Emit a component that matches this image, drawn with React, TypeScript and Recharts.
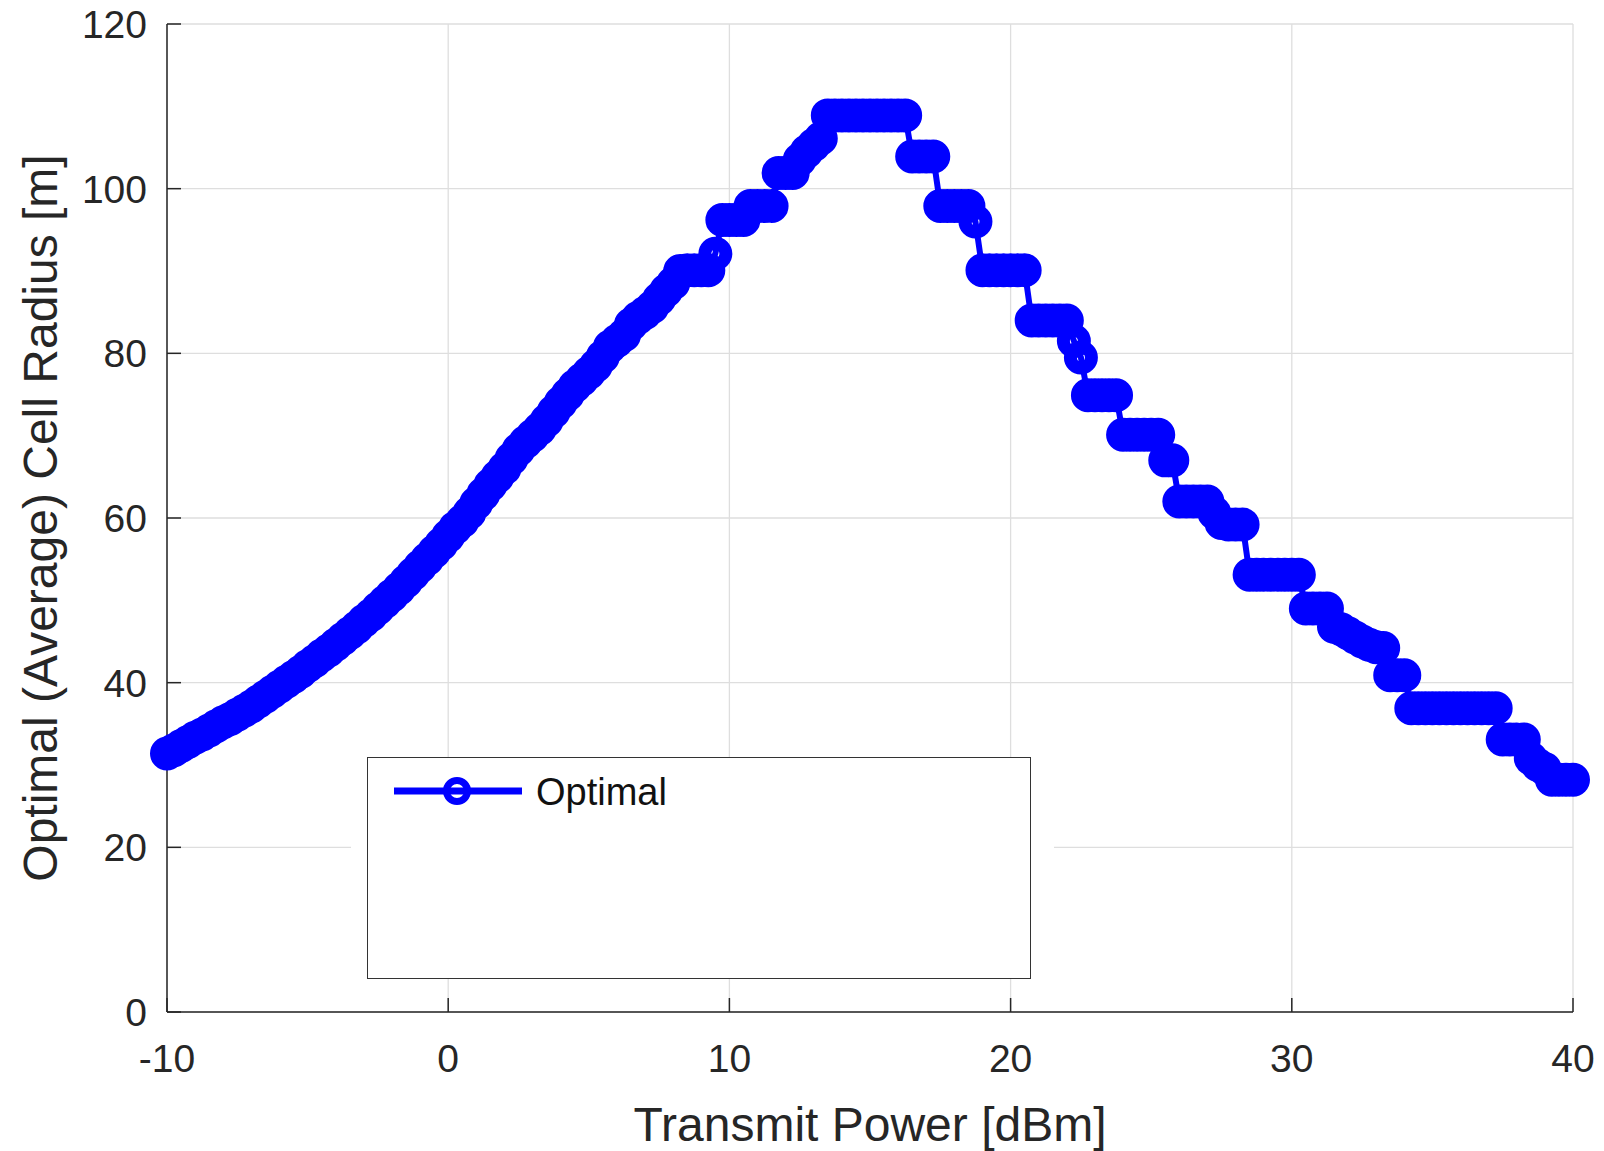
import React from 'react';
import { LineChart, Line, XAxis, YAxis, CartesianGrid, Legend } from 'recharts';

// Transmit power [dBm]
const powerDbm: number[] = [
  -10, -9.75, -9.5, -9.25, -9, -8.75, -8.5, -8.25, -8, -7.75, -7.5, -7.25, -7, -6.75, -6.5, -6.25,
  -6, -5.75, -5.5, -5.25, -5, -4.75, -4.5, -4.25, -4, -3.75, -3.5, -3.25, -3, -2.75, -2.5, -2.25,
  -2, -1.75, -1.5, -1.25, -1, -0.75, -0.5, -0.25, 0, 0.25, 0.5, 0.75, 1, 1.25, 1.5, 1.75,
  2, 2.25, 2.5, 2.75, 3, 3.25, 3.5, 3.75, 4, 4.25, 4.5, 4.75, 5, 5.25, 5.5, 5.75,
  6, 6.25, 6.5, 6.75, 7, 7.25, 7.5, 7.75, 8, 8.25, 8.5, 8.75, 9, 9.25, 9.5, 9.75,
  10, 10.25, 10.5, 10.75, 11, 11.25, 11.5, 11.75, 12, 12.25, 12.5, 12.75, 13, 13.25, 13.5, 13.75,
  14, 14.25, 14.5, 14.75, 15, 15.25, 15.5, 15.75, 16, 16.25, 16.5, 16.75, 17, 17.25, 17.5, 17.75,
  18, 18.25, 18.5, 18.75, 19, 19.25, 19.5, 19.75, 20, 20.25, 20.5, 20.75, 21, 21.25, 21.5, 21.75,
  22, 22.25, 22.5, 22.75, 23, 23.25, 23.5, 23.75, 24, 24.25, 24.5, 24.75, 25, 25.25, 25.5, 25.75,
  26, 26.25, 26.5, 26.75, 27, 27.25, 27.5, 27.75, 28, 28.25, 28.5, 28.75, 29, 29.25, 29.5, 29.75,
  30, 30.25, 30.5, 30.75, 31, 31.25, 31.5, 31.75, 32, 32.25, 32.5, 32.75, 33, 33.25, 33.5, 33.75,
  34, 34.25, 34.5, 34.75, 35, 35.25, 35.5, 35.75, 36, 36.25, 36.5, 36.75, 37, 37.25, 37.5, 37.75,
  38, 38.25, 38.5, 38.75, 39, 39.25, 39.5, 39.75, 40,
];

// Optimal (average) cell radius [m]
const optimalRadius: number[] = [
  31.4, 31.8, 32.3, 32.8, 33.3, 33.7, 34.2, 34.7, 35.2, 35.6, 36.1, 36.6, 37.1, 37.7, 38.3, 38.9,
  39.5, 40.1, 40.7, 41.3, 42.0, 42.6, 43.3, 43.9, 44.6, 45.3, 46.0, 46.7, 47.5, 48.2, 49.0, 49.8,
  50.6, 51.4, 52.3, 53.2, 54.1, 55.0, 55.9, 56.8, 57.8, 58.8, 59.6, 60.6, 61.8, 62.9, 64.0, 65.0,
  66.0, 67.2, 68.3, 69.2, 70.0, 70.8, 71.8, 72.9, 74.0, 75.0, 76.0, 76.8, 77.6, 78.5, 79.6, 80.8,
  81.5, 82.2, 83.5, 84.3, 84.9, 85.6, 86.6, 87.6, 88.5, 90.0, 90.1, 90.1, 90.1, 90.1, 92.1, 96.2,
  96.2, 96.2, 96.2, 97.9, 97.9, 97.9, 97.9, 101.9, 101.9, 101.9, 103.5, 104.5, 105.3, 106.1, 108.9, 108.9,
  108.9, 108.9, 108.9, 108.9, 108.9, 108.9, 108.9, 108.9, 108.9, 108.9, 103.9, 103.9, 103.9, 103.9, 97.9, 97.9,
  97.9, 97.9, 97.9, 96.0, 90.1, 90.1, 90.1, 90.1, 90.1, 90.1, 90.1, 84.0, 84.0, 84.0, 84.0, 84.0,
  84.0, 81.5, 79.5, 74.9, 74.9, 74.9, 74.9, 74.9, 70.1, 70.1, 70.1, 70.1, 70.1, 70.1, 67.0, 67.0,
  62.0, 62.0, 62.0, 62.0, 62.0, 60.6, 59.4, 59.2, 59.2, 59.2, 53.1, 53.1, 53.1, 53.1, 53.1, 53.1,
  53.1, 53.1, 49.0, 49.0, 49.0, 49.0, 46.8, 46.5, 46.0, 45.5, 45.0, 44.6, 44.3, 44.2, 40.9, 40.9,
  40.9, 36.9, 36.9, 36.9, 36.9, 36.9, 36.9, 36.9, 36.9, 36.9, 36.9, 36.9, 36.9, 36.9, 33.1, 33.1,
  33.1, 33.1, 30.8, 30.0, 29.5, 28.2, 28.2, 28.2, 28.2,
];

const xTicks: number[] = [-10, 0, 10, 20, 30, 40];
const yTicks: number[] = [0, 20, 40, 60, 80, 100, 120];

const seriesName = 'Optimal';
const xTitle = 'Transmit Power [dBm]';
const yTitle = 'Optimal (Average) Cell Radius [m]';

const data = powerDbm.map((p, i) => ({ power: p, radius: optimalRadius[i] }));

const FONT = '"Liberation Sans", Arial, Helvetica, sans-serif';
const TEXT = '#262626';
const AXIS = '#262626';
const BLUE = '#0000ff';
const TICK_LEN = 14;

const BottomTick = (props: any) => {
  const { x, y, payload } = props;
  return (
    <g>
      <line x1={x} y1={y} x2={x} y2={y - TICK_LEN} stroke={AXIS} strokeWidth={1.5} />
      <text x={x} y={y + 60} textAnchor="middle" fontFamily={FONT} fontSize={39} fill={TEXT}>
        {payload.value}
      </text>
    </g>
  );
};

const TopTick = (props: any) => {
  const { x, y } = props;
  return <line x1={x} y1={y} x2={x} y2={y + TICK_LEN} stroke={AXIS} strokeWidth={1.5} />;
};

const LeftTick = (props: any) => {
  const { x, y, payload } = props;
  return (
    <g>
      <line x1={x} y1={y} x2={x + TICK_LEN} y2={y} stroke={AXIS} strokeWidth={1.5} />
      <text x={x - 20} y={y} dy="0.358em" textAnchor="end" fontFamily={FONT} fontSize={39} fill={TEXT}>
        {payload.value}
      </text>
    </g>
  );
};

const RightTick = (props: any) => {
  const { x, y } = props;
  return <line x1={x} y1={y} x2={x - TICK_LEN} y2={y} stroke={AXIS} strokeWidth={1.5} />;
};

const XTitle = (props: any) => {
  const vb = props.viewBox || {};
  return (
    <text x={vb.x + vb.width / 2} y={vb.y + 129} textAnchor="middle" fontFamily={FONT} fontSize={48} fill={TEXT}>
      {xTitle}
    </text>
  );
};

const YTitle = (props: any) => {
  const vb = props.viewBox || {};
  const cx = vb.x + 57;
  const cy = vb.y + vb.height / 2;
  return (
    <text x={cx} y={cy} transform={`rotate(-90, ${cx}, ${cy})`} textAnchor="middle" fontFamily={FONT} fontSize={48} fill={TEXT}>
      {yTitle}
    </text>
  );
};

const LegendBox = () => (
  <div style={{ position: 'relative', width: 664, height: 222 }}>
    <div style={{ position: 'absolute', left: -16, top: 86, width: 703, height: 7, background: '#fff' }} />
    <div
      style={{
        position: 'absolute',
        left: 0,
        top: 0,
        width: 664,
        height: 222,
        boxSizing: 'border-box',
        border: '1.5px solid #333',
        background: '#fff',
      }}
    >
      <svg width={664} height={222} style={{ position: 'absolute', left: -1.5, top: -1.5 }}>
        <line x1={27} y1={34} x2={155} y2={34} stroke={BLUE} strokeWidth={7} />
        <circle cx={90} cy={34} r={10.5} fill="none" stroke={BLUE} strokeWidth={7} />
        <text x={169} y={47.5} fontFamily={FONT} fontSize={38} fill="#111">
          {seriesName}
        </text>
      </svg>
    </div>
  </div>
);

export default function App() {
  return (
    <div style={{ position: 'absolute', left: 0, top: 0, width: 1604, height: 1151, background: '#fff', overflow: 'hidden' }}>
      <LineChart
        width={1604}
        height={1151}
        data={data}
        margin={{ top: 24, right: 31, bottom: 0, left: 0 }}
      >
        <CartesianGrid stroke="#dedede" strokeWidth={1.3} horizontalValues={yTicks} verticalValues={xTicks} />
        <XAxis
          dataKey="power"
          type="number"
          domain={[-10, 40]}
          ticks={xTicks}
          interval={0}
          height={139}
          tickSize={0}
          tickMargin={0}
          tickLine={false}
          tick={<BottomTick />}
          axisLine={{ stroke: AXIS, strokeWidth: 1.5 }}
          label={<XTitle />}
        />
        <XAxis
          xAxisId="top"
          orientation="top"
          dataKey="power"
          type="number"
          domain={[-10, 40]}
          ticks={xTicks}
          interval={0}
          allowDataOverflow
          height={0}
          tickSize={0}
          tickMargin={0}
          tickLine={false}
          tick={<TopTick />}
          axisLine={{ stroke: AXIS, strokeWidth: 1.5 }}
        />
        <YAxis
          type="number"
          domain={[0, 120]}
          ticks={yTicks}
          interval={0}
          width={167}
          tickSize={0}
          tickMargin={0}
          tickLine={false}
          tick={<LeftTick />}
          axisLine={{ stroke: AXIS, strokeWidth: 1.5 }}
          label={<YTitle />}
        />
        <YAxis
          yAxisId="right"
          orientation="right"
          type="number"
          domain={[0, 120]}
          ticks={yTicks}
          interval={0}
          allowDataOverflow
          width={0}
          tickSize={0}
          tickMargin={0}
          tickLine={false}
          tick={<RightTick />}
          axisLine={{ stroke: AXIS, strokeWidth: 1.5 }}
        />
        <Legend
          layout="vertical"
          align="center"
          verticalAlign="middle"
          content={() => <LegendBox />}
          wrapperStyle={{ position: 'absolute', left: 367, top: 757, width: 664, height: 222 }}
        />
        <Line
          type="linear"
          dataKey="radius"
          name={seriesName}
          stroke={BLUE}
          strokeWidth={6}
          dot={{ r: 10.5, stroke: BLUE, strokeWidth: 13, fill: 'none' }}
          activeDot={false}
          isAnimationActive={false}
        />
      </LineChart>
    </div>
  );
}
